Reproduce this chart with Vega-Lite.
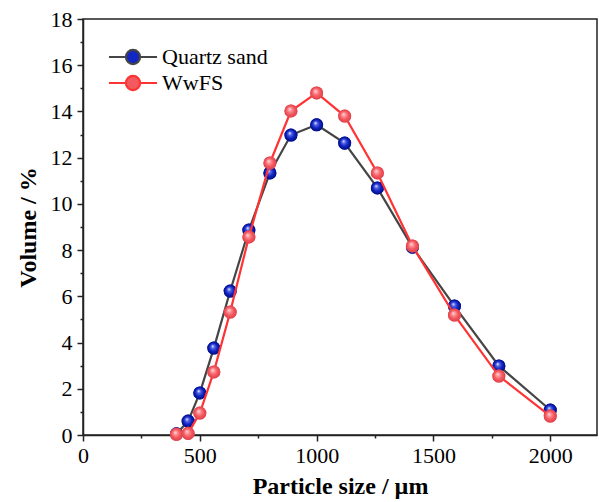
{
  "$schema": "https://vega.github.io/schema/vega-lite/v6.json",
  "width": 514,
  "height": 416,
  "autosize": {"type": "none"},
  "padding": {"left": 83, "top": 19, "right": 2, "bottom": 67},
  "background": "white",
  "config": {
    "view": {"stroke": "#222", "strokeWidth": 1.5},
    "font": "Liberation Serif",
    "axis": {
      "domainColor": "#222", "domainWidth": 1.5, "tickColor": "#222", "tickWidth": 1.5,
      "labelColor": "black", "labelFont": "Liberation Serif", "labelFontSize": 22,
      "titleColor": "black", "titleFont": "Liberation Serif", "titleFontSize": 24, "titleFontWeight": "bold",
      "grid": false
    }
  },
  "data": {"values": [
    {"size": 400, "vol": 0.05, "series": "Quartz sand"},
    {"size": 450, "vol": 0.6, "series": "Quartz sand"},
    {"size": 500, "vol": 1.82, "series": "Quartz sand"},
    {"size": 560, "vol": 3.76, "series": "Quartz sand"},
    {"size": 630, "vol": 6.23, "series": "Quartz sand"},
    {"size": 710, "vol": 8.87, "series": "Quartz sand"},
    {"size": 800, "vol": 11.34, "series": "Quartz sand"},
    {"size": 890, "vol": 12.98, "series": "Quartz sand"},
    {"size": 1000, "vol": 13.42, "series": "Quartz sand"},
    {"size": 1120, "vol": 12.63, "series": "Quartz sand"},
    {"size": 1260, "vol": 10.69, "series": "Quartz sand"},
    {"size": 1410, "vol": 8.13, "series": "Quartz sand"},
    {"size": 1590, "vol": 5.58, "series": "Quartz sand"},
    {"size": 1780, "vol": 2.99, "series": "Quartz sand"},
    {"size": 2000, "vol": 1.08, "series": "Quartz sand"},
    {"size": 400, "vol": 0.03, "series": "WwFS"},
    {"size": 450, "vol": 0.07, "series": "WwFS"},
    {"size": 500, "vol": 0.95, "series": "WwFS"},
    {"size": 560, "vol": 2.73, "series": "WwFS"},
    {"size": 630, "vol": 5.32, "series": "WwFS"},
    {"size": 710, "vol": 8.57, "series": "WwFS"},
    {"size": 800, "vol": 11.77, "series": "WwFS"},
    {"size": 890, "vol": 14.02, "series": "WwFS"},
    {"size": 1000, "vol": 14.8, "series": "WwFS"},
    {"size": 1120, "vol": 13.8, "series": "WwFS"},
    {"size": 1260, "vol": 11.34, "series": "WwFS"},
    {"size": 1410, "vol": 8.18, "series": "WwFS"},
    {"size": 1590, "vol": 5.19, "series": "WwFS"},
    {"size": 1780, "vol": 2.55, "series": "WwFS"},
    {"size": 2000, "vol": 0.82, "series": "WwFS"}
  ]},
  "encoding": {
    "x": {"field": "size", "type": "quantitative",
      "scale": {"domain": [0, 2200], "nice": false},
      "axis": {"title": "Particle size / µm", "format": "d", "values": [0, 250, 500, 750, 1000, 1250, 1500, 1750, 2000],
        "labelExpr": "datum.value % 500 === 0 ? datum.label : ''",
        "tickSize": {"condition": {"test": "datum.value % 500 === 0", "value": 6}, "value": 3},
        "labelPadding": 4, "titlePadding": 8, "labelFlush": false}},
    "y": {"field": "vol", "type": "quantitative",
      "scale": {"domain": [0, 18], "nice": false},
      "axis": {"title": "Volume / %", "values": [0,1,2,3,4,5,6,7,8,9,10,11,12,13,14,15,16,17,18],
        "labelExpr": "datum.value % 2 === 0 ? datum.label : ''",
        "tickSize": {"condition": {"test": "datum.value % 2 === 0", "value": 6}, "value": 3},
        "labelPadding": 5, "titlePadding": 10}}
  },
  "layer": [
    {
      "transform": [{"filter": "datum.series === 'Quartz sand'"}],
      "mark": {"type": "line", "strokeWidth": 2.2},
      "encoding": {"stroke": {"field": "series", "type": "nominal",
        "scale": {"domain": ["Quartz sand", "WwFS"], "range": ["#454545", "#ff3333"]},
        "legend": {"title": null, "orient": "none", "legendX": 39, "legendY": 27, "padding": 0,
          "labelFont": "Liberation Serif", "labelFontSize": 22, "labelColor": "black",
          "symbolType": "M-3.4,0H-1M1,0H3.4M-1,0A1,1,0,1,1,1,0A1,1,0,1,1,-1,0Z",
          "symbolSize": 200, "symbolStrokeWidth": 2.2, "labelOffset": 18, "rowPadding": 2}}}
    },
    {
      "transform": [{"filter": "datum.series === 'Quartz sand'"}],
      "mark": {"type": "point", "filled": true, "size": 170, "opacity": 1},
      "encoding": {"fill": {"field": "series", "type": "nominal",
        "scale": {"domain": ["Quartz sand", "WwFS"], "range": ["#1226c4", "#f25a60"]},
        "legend": {"title": null, "orient": "none", "legendX": 39, "legendY": 27, "padding": 0,
          "labelFont": "Liberation Serif", "labelFontSize": 22, "labelColor": "black",
          "symbolType": "M-3.4,0H-1M1,0H3.4M-1,0A1,1,0,1,1,1,0A1,1,0,1,1,-1,0Z",
          "symbolSize": 200, "symbolStrokeWidth": 2.2, "labelOffset": 18, "rowPadding": 2}}}
    },
    {
      "transform": [{"filter": "datum.series === 'Quartz sand'"}],
      "mark": {"type": "point", "filled": true, "size": 170, "opacity": 1,
        "fill": {"gradient": "radial", "x1": 0.4, "y1": 0.35, "r1": 0, "x2": 0.5, "y2": 0.5, "r2": 0.5,
          "stops": [{"offset": 0, "color": "#ffffff"}, {"offset": 0.25, "color": "#5a6ae8"}, {"offset": 0.6, "color": "#1226c4"}, {"offset": 1, "color": "#000c80"}]}}
    },
    {
      "transform": [{"filter": "datum.series === 'WwFS'"}],
      "mark": {"type": "line", "strokeWidth": 2.2},
      "encoding": {"stroke": {"field": "series", "type": "nominal"}}
    },
    {
      "transform": [{"filter": "datum.series === 'WwFS'"}],
      "mark": {"type": "point", "filled": true, "size": 170, "opacity": 1},
      "encoding": {"fill": {"field": "series", "type": "nominal"}}
    },
    {
      "transform": [{"filter": "datum.series === 'WwFS'"}],
      "mark": {"type": "point", "filled": true, "size": 170, "opacity": 1,
        "fill": {"gradient": "radial", "x1": 0.4, "y1": 0.35, "r1": 0, "x2": 0.5, "y2": 0.5, "r2": 0.5,
          "stops": [{"offset": 0, "color": "#ffe6e6"}, {"offset": 0.25, "color": "#ff9a9e"}, {"offset": 0.6, "color": "#f45c62"}, {"offset": 1, "color": "#e0404a"}]}}
    }
  ]
}
